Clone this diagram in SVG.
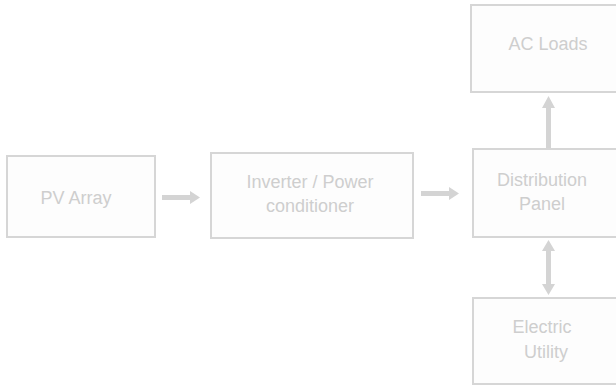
<svg xmlns="http://www.w3.org/2000/svg" width="616" height="386" viewBox="0 0 616 386">
<style>
.box{fill:#fdfdfd;stroke:#d6d6d6;stroke-width:2}
.t{font-family:"Liberation Sans",Arial,sans-serif;font-size:18px;fill:#cecece;text-anchor:middle}
.ar{fill:#d4d4d4}
</style>
<rect width="616" height="386" fill="#ffffff"/>
<g id="pv"><rect class="box" x="7" y="156" width="148" height="81"/><text class="t" x="76" y="204">PV Array</text></g>
<g id="inverter"><rect class="box" x="211" y="153" width="202" height="85"/><text class="t" x="310" y="188">Inverter / Power</text><text class="t" x="310" y="212">conditioner</text></g>
<g id="distribution"><rect class="box" x="473" y="149" width="150" height="88"/><text class="t" x="542" y="186">Distribution</text><text class="t" x="542" y="210">Panel</text></g>
<g id="acloads"><rect class="box" x="471" y="5" width="152" height="87"/><text class="t" x="548" y="50">AC Loads</text></g>
<g id="utility"><rect class="box" x="473" y="298" width="150" height="86"/><text class="t" x="542" y="333">Electric</text><text class="t" x="546" y="358">Utility</text></g>
<g id="connectors">
<polygon class="ar" points="162,195 190,195 190,191 200,197.5 190,204 190,200 162,200"/>
<polygon class="ar" points="421,191 449,191 449,187 459,193.5 449,200 449,196 421,196"/>
<polygon class="ar" points="546,148 546,108 542,108 548.5,96 555,108 551,108 551,148"/>
<polygon class="ar" points="548.5,240 555,251 551,251 551,284 555,284 548.5,295 542,284 546,284 546,251 542,251"/>
</g>
</svg>
